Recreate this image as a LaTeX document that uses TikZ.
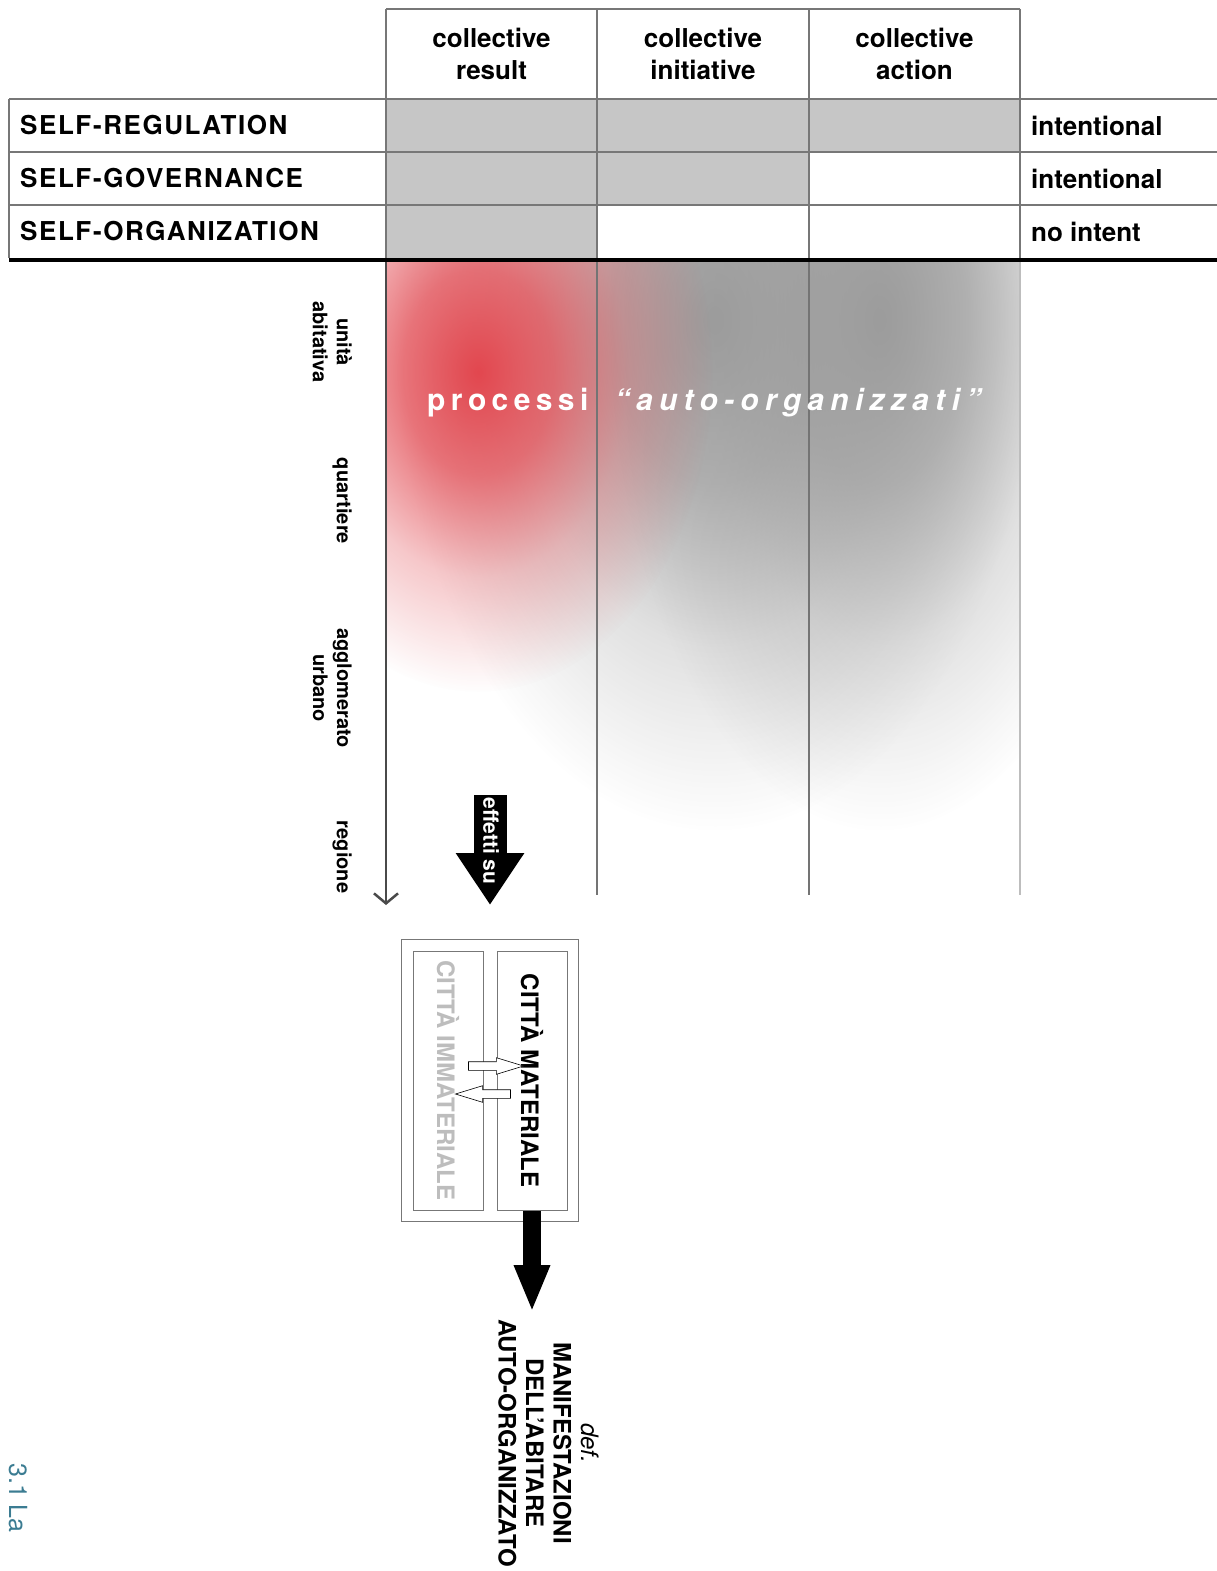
\documentclass[tikz,border=0pt]{standalone}
\usepackage{fontspec}
\setmainfont{TeX Gyre Heros}
\usetikzlibrary{arrows.meta,positioning,fit,shapes.arrows,fadings}
\definecolor{rule}{HTML}{777777}
\definecolor{cellgray}{HTML}{C6C6C6}
\definecolor{blush}{HTML}{E2474F}
\definecolor{haze}{HTML}{9C9C9C}
\definecolor{axisgray}{HTML}{4A4A4A}
\definecolor{colgray}{HTML}{747474}
\definecolor{faint}{HTML}{BDBDBD}
\definecolor{chapter}{HTML}{3B7C92}
\pgfdeclareradialshading{blobshade}{\pgfpointorigin}{color(0bp)=(white); color(8bp)=(black!25); color(16bp)=(black!70); color(25bp)=(black); color(50bp)=(black)}
\pgfdeclarefading{blob}{\pgfuseshading{blobshade}}
\tikzset{gridline/.style={draw=rule,line width=1.2pt},head/.style={font=\bfseries\fontsize{26}{32}\selectfont,align=center,inner sep=0pt},rowlab/.style={font=\bfseries\fontsize{26}{30}\selectfont\addfontfeature{LetterSpace=6},anchor=west,inner sep=0pt},intent/.style={font=\bfseries\fontsize{26}{30}\selectfont,anchor=west,inner sep=0pt},scalelab/.style={font=\bfseries\fontsize{20}{24}\selectfont,rotate=-90,anchor=north,align=center,inner sep=0pt},spaced/.style={text=white,font=\bfseries\fontsize{30}{30}\selectfont\addfontfeature{LetterSpace=18},inner sep=0pt},fatarr/.style={line width=33pt,-{Triangle[length=52pt,width=65pt]}},midarr/.style={line width=18pt,-{Triangle[length=47pt,width=33pt]}},cittabox/.style={draw=rule,line width=1pt,minimum width=70pt,minimum height=259pt,inner sep=0pt},cittalab/.style={font=\bfseries\fontsize{24}{24}\selectfont,rotate=-90,inner sep=0pt},openarr/.style={single arrow,draw=black,fill=white,line width=0.6pt,inner sep=4pt,minimum height=55pt,single arrow head extend=4pt,single arrow tip angle=34}}

\begin{document}
\begin{tikzpicture}[x=1pt,y=-1pt]
\useasboundingbox (0,0) rectangle (1217,1571);
\clip (0,0) rectangle (1217,1571);
\fill[white] (0,0) rectangle (1217,1571);
\fill[cellgray] (386,99) rectangle (1020,152);
\fill[cellgray] (386,152) rectangle (809,205);
\fill[cellgray] (386,205) rectangle (597,258);
\draw[gridline] (386,9) -- (1020,9);
\draw[gridline] (9,99) -- (1217,99);
\draw[gridline] (9,152) -- (1217,152);
\draw[gridline] (9,205) -- (1217,205);
\draw[gridline] (9,99) -- (9,258);
\draw[gridline] (386,9) -- (386,258);
\draw[gridline] (597,9) -- (597,258);
\draw[gridline] (809,9) -- (809,258);
\draw[gridline] (1020,9) -- (1020,258);
\draw[line width=4pt] (9,259.5) -- (1217,259.5);
\node[head] (result) at (491.5,54) {collective\\result};
\node[head] (initiative) at (703,54) {collective\\initiative};
\node[head] (action) at (914.5,54) {collective\\action};
\node[rowlab] (selfreg) at (20,125.5) {SELF-REGULATION};
\node[rowlab] (selfgov) at (20,178.5) {SELF-GOVERNANCE};
\node[rowlab] (selforg) at (20,231.5) {SELF-ORGANIZATION};
\node[intent] (intreg) at (1031,125.5) {intentional};
\node[intent] (intgov) at (1031,178.5) {intentional};
\node[intent] (nointent) at (1031,231.5) {no intent};

\begin{scope}
\clip (386,262) rectangle (1020,905);
\fill[haze,path fading=blob] (715,320) ellipse (320 and 510);
\fill[haze,path fading=blob] (880,320) ellipse (270 and 510);
\fill[blush,path fading=blob] (478,372) ellipse (235 and 320);
\end{scope}
\draw[colgray,line width=2.5pt] (597,262) -- (597,895);
\draw[colgray,line width=2.5pt] (809,262) -- (809,895);
\draw[faint,line width=2pt] (1020,262) -- (1020,895);
\node[spaced,anchor=base west] (procs) at (427,410) {processi};
\node[spaced,font=\bfseries\itshape\fontsize{30}{30}\selectfont\addfontfeature{LetterSpace=21},base right=26pt of procs] (autoorg) {“auto-organizzati”};

\coordinate (axtop) at (386,262);
\coordinate (axbot) at (386,905);
\draw[axisgray,line width=2.5pt,-{Straight Barb[length=10pt,width=24pt]}] (axtop) -- (axbot);
\node[scalelab] (unita) at (352,342) {unità\\abitativa};
\node[scalelab] (quart) at (352,501) {quartiere};
\node[scalelab] (agglo) at (352,688) {agglomerato\\urbano};
\node[scalelab] (regio) at (352,857) {regione};

\coordinate (eftop) at (490,795);
\coordinate (efbot) at (490,905);
\draw[fatarr] (eftop) -- (efbot);
\node[scalelab,anchor=center,text=white,font=\bfseries\fontsize{21}{21}\selectfont] (effetti) at (491,841) {effetti su};

\node[cittabox] (immbox) at (448,1080.5) {};
\node[cittabox] (matbox) at (532,1080.5) {};
\node[fit=(immbox)(matbox),inner sep=11pt,draw=rule,line width=1pt] (citta) {};
\node[cittalab,text=faint] (immlab) at (immbox.center) {CITTÀ IMMATERIALE};
\node[cittalab] (matlab) at (matbox.center) {CITTÀ MATERIALE};
\node[openarr] (tomat) at (489,1066) {};
\node[openarr,shape border rotate=180] (toimm) at (490,1094) {};

\coordinate (deftip) at (532,1312);
\draw[midarr] (matbox.south) -- (deftip);
\node[scalelab,font=\bfseries\fontsize{24}{27.5}\selectfont] (manif) at (599,1443) {{\mdseries\itshape def.}\\MANIFESTAZIONI\\DELL’ABITARE\\AUTO-ORGANIZZATO};
\node[rotate=-90,anchor=west,inner sep=0pt,text=chapter,font=\fontsize{25}{25}\selectfont] (chap) at (18,1463) {3.1 La};
\end{tikzpicture}
\end{document}
